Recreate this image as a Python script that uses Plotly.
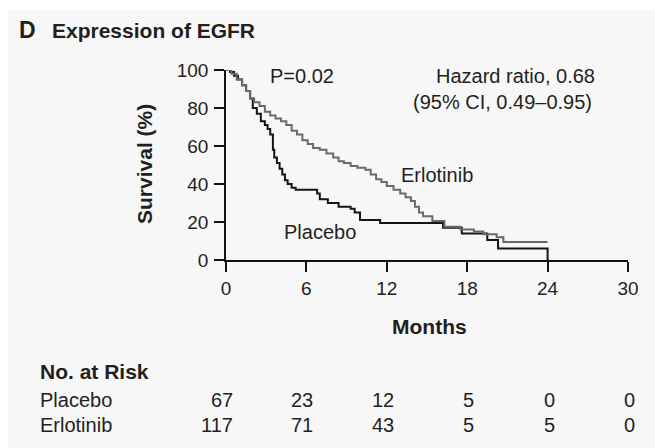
import plotly.graph_objects as go

# ---------------- data ----------------
placebo_t = [0, 0.3, 0.6, 0.9, 1.2, 1.5, 1.8, 2.0, 2.3, 2.6, 2.9, 3.1, 3.3, 3.5, 3.6, 3.8,
             4.0, 4.2, 4.4, 4.6, 4.9, 5.2, 6.8, 7.0, 7.6, 8.4, 9.3, 9.6, 10.0, 11.5,
             16.2, 17.6, 19.5, 20.3, 24.0, 24.0]
placebo_s = [100, 99, 97, 95, 92, 89, 85, 80, 77, 73, 71, 69, 66, 58, 54, 51,
             48, 45, 42, 40, 38, 37, 35, 32, 30, 28, 27, 25, 21, 19.5,
             17, 14, 10.5, 6, 0, 0]

erlotinib_t = [0, 0.4, 0.8, 1.2, 1.5, 1.8, 2.1, 2.5, 2.9, 3.3, 3.7, 4.1, 4.5, 4.9, 5.3, 5.7,
               6.1, 6.5, 7.0, 7.5, 8.0, 8.4, 8.8, 9.3, 9.8, 10.4, 10.8, 11.2, 11.6, 12.0,
               12.5, 13.0, 13.4, 13.8, 14.1, 14.4, 14.7, 15.4, 16.3, 17.5, 18.5, 19.2,
               20.2, 20.7, 24.0]
erlotinib_s = [100, 98, 95, 92, 89, 85, 83, 81, 78, 76, 74.5, 73, 71, 68, 66, 63,
               61, 59, 58, 56, 54, 52, 51, 49.5, 48.5, 47.5, 45, 42.5, 41, 39,
               37, 35, 33, 31, 28, 25, 23, 20.5, 17.5, 16, 15, 13.5,
               12, 9.5, 9.5]

x_ticks = [0, 6, 12, 18, 24, 30]
y_ticks = [0, 20, 40, 60, 80, 100]
risk_groups = ["Placebo", "Erlotinib"]
risk_placebo = [67, 23, 12, 5, 0, 0]
risk_erlotinib = [117, 71, 43, 5, 5, 0]

# ---------------- layout geometry ----------------
W, H = 655, 448
L, R, T, B = 226, 628, 70, 260  # plot area in pixels
XMAX = 30.0
FONT = "Liberation Sans, Arial, sans-serif"
TXT = "#231f20"


def px(xp):
    return (xp - L) / (R - L)


def py(yp):
    return (B - yp) / (B - T)


fig = go.Figure()
fig.add_trace(go.Scatter(x=placebo_t, y=placebo_s, mode="lines", line_shape="hv",
                         line=dict(color="#151515", width=2), cliponaxis=False,
                         showlegend=False, hoverinfo="skip"))
fig.add_trace(go.Scatter(x=erlotinib_t, y=erlotinib_s, mode="lines", line_shape="hv",
                         line=dict(color="#6a6a6a", width=2), cliponaxis=False,
                         showlegend=False, hoverinfo="skip"))

ann = []


def text(t, x, y, size=20, bold=False, xanchor="left", angle=0):
    ann.append(dict(text=("<b>%s</b>" % t) if bold else t, x=x, y=y, xref="paper",
                    yref="paper", xanchor=xanchor, yanchor="middle", showarrow=False,
                    textangle=angle, font=dict(family=FONT, size=size, color=TXT)))


text("D", px(17), py(30), size=23, bold=True)
text("Expression of EGFR", px(50), py(30), size=21, bold=True)
text("P=0.02", px(268), py(76), size=20)
text("Hazard ratio, 0.68", px(597), py(76), size=20, xanchor="right")
text("(95% CI, 0.49–0.95)", px(594), py(102), size=20, xanchor="right")
text("Erlotinib", px(399), py(175), size=20)
text("Placebo", px(282), py(232), size=20)
text("Months", px(429), py(326), size=21, bold=True, xanchor="center")
text("Survival (%)", px(144), py(164), size=21, bold=True, xanchor="center", angle=-90)
text("No. at Risk", px(38), py(371), size=21, bold=True)

for name, vals, yc in [(risk_groups[0], risk_placebo, 400), (risk_groups[1], risk_erlotinib, 425)]:
    text(name, px(38), py(yc), size=20)
    for xv, v in zip(x_ticks, vals):
        # right-aligned a few pixels past each month tick
        text(str(v), xv / XMAX + 9 / (R - L), py(yc), size=20, xanchor="right")

shapes = [
    dict(type="rect", xref="paper", yref="paper", x0=px(0), x1=px(W), y0=py(10), y1=py(0),
         fillcolor="white", line=dict(width=0), layer="below"),
    dict(type="rect", xref="paper", yref="paper", x0=px(0), x1=px(8), y0=py(H), y1=py(0),
         fillcolor="white", line=dict(width=0), layer="below"),
]

axis_common = dict(showline=True, linecolor="#111", linewidth=1.5, ticks="outside",
                   ticklen=10, tickwidth=1.5, tickcolor="#111", showgrid=False,
                   zeroline=False, tickfont=dict(family=FONT, size=19, color=TXT))

fig.update_layout(
    width=W, height=H,
    margin=dict(l=L, r=W - R, t=T, b=H - B, pad=0),
    paper_bgcolor="#f7f7f7", plot_bgcolor="#f7f7f7",
    xaxis=dict(range=[0, XMAX], tickvals=x_ticks, ticklabelstandoff=0, **axis_common),
    yaxis=dict(range=[0, 100], tickvals=y_ticks, ticklabelstandoff=2, **axis_common),
    annotations=ann, shapes=shapes, showlegend=False,
)

fig.write_html("out.html")
